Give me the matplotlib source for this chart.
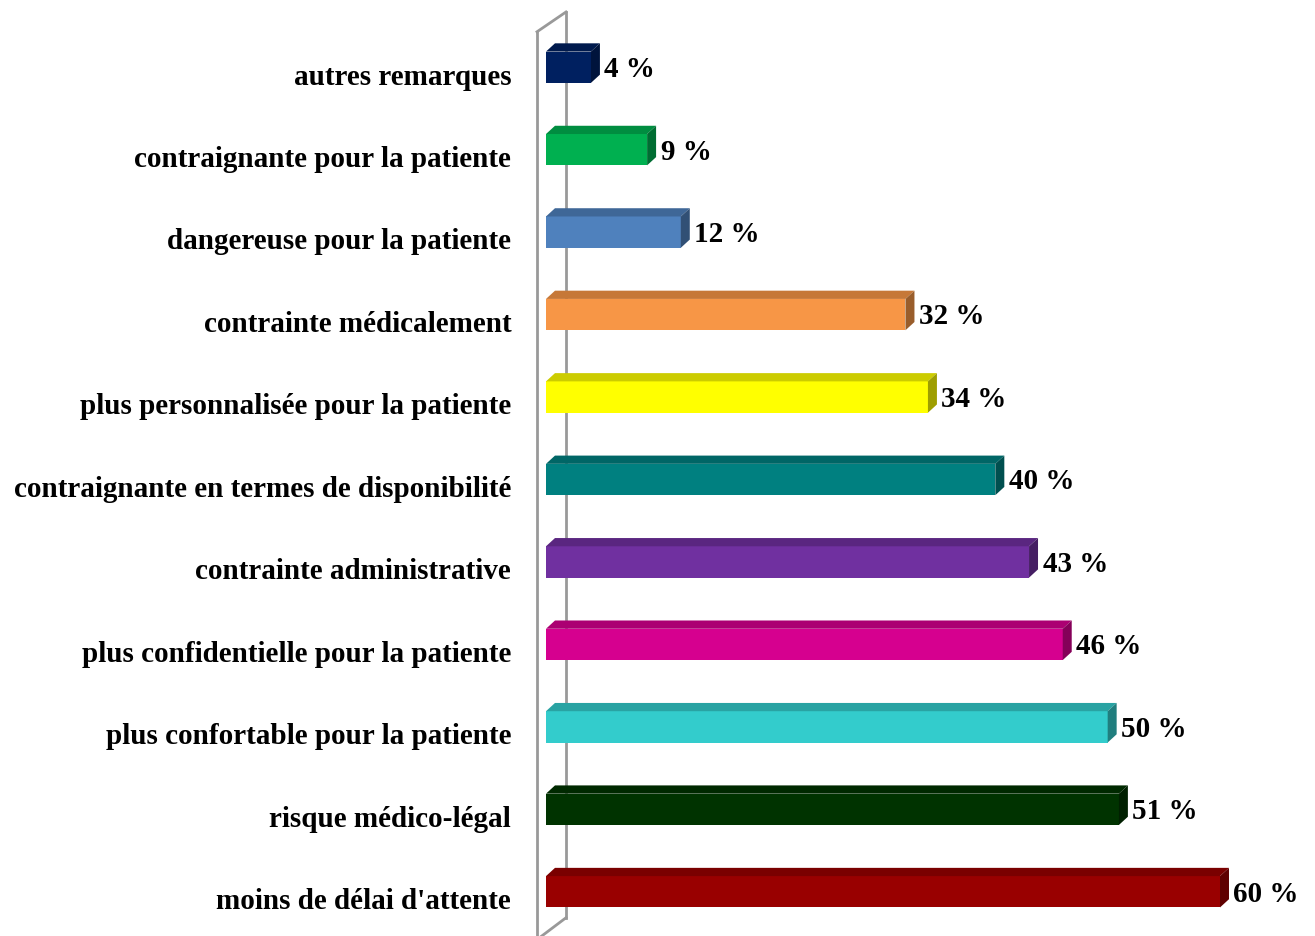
import matplotlib.pyplot as plt
from matplotlib.patches import Polygon
from matplotlib.colors import to_rgb

categories = [
    "moins de délai d'attente",
    "risque médico-légal",
    "plus confortable pour la patiente",
    "plus confidentielle pour la patiente",
    "contrainte administrative",
    "contraignante en termes de disponibilité",
    "plus personnalisée pour la patiente",
    "contrainte médicalement",
    "dangereuse pour la patiente",
    "contraignante pour la patiente",
    "autres remarques",
]
values = [60, 51, 50, 46, 43, 40, 34, 32, 12, 9, 4]
colors = ["#990000", "#003300", "#33CCCC", "#D6008F", "#7030A0", "#008080",
          "#FFFF00", "#F79646", "#4F81BD", "#00B050", "#002060"]

plt.rcParams['font.family'] = ['Liberation Serif', 'DejaVu Serif']

fig = plt.figure(figsize=(13.15, 9.36), dpi=100)
ax = fig.add_axes([546 / 1315, 3 / 936, 674 / 1315, 907 / 936])
ax.set_xlim(0, 60)
ax.set_ylim(-0.5, 10.5)
ax.axis('off')

# 3D depth of the bars in data units
dx, dy = 0.8, 0.1
h = 0.38


def shade(c, f):
    r, g, b = to_rgb(c)
    return (r * f, g * f, b * f)


# back wall on the left
wall_x = [-0.8, 1.78]
wall_kw = dict(color='#999999', lw=2, clip_on=False, zorder=1)
ax.plot([wall_x[0], wall_x[0]], [10.43, -0.58], **wall_kw)
ax.plot([wall_x[1], wall_x[1]], [10.67, -0.315], **wall_kw)
ax.plot([wall_x[0], wall_x[1]], [10.43, 10.67], **wall_kw)
ax.plot([wall_x[1], wall_x[0]], [-0.315, -0.58], **wall_kw)

y = list(range(len(categories)))
bars = ax.barh(y, values, height=h, color=colors, zorder=3, clip_on=False)

for rect, col in zip(bars, colors):
    x0, y0 = rect.get_x(), rect.get_y()
    w, hh = rect.get_width(), rect.get_height()
    top = Polygon([(x0, y0 + hh), (x0 + w, y0 + hh),
                   (x0 + w + dx, y0 + hh + dy), (x0 + dx, y0 + hh + dy)],
                  closed=True, facecolor=shade(col, 0.8), edgecolor='none',
                  zorder=3, clip_on=False)
    side = Polygon([(x0 + w, y0), (x0 + w + dx, y0 + dy),
                    (x0 + w + dx, y0 + hh + dy), (x0 + w, y0 + hh)],
                   closed=True, facecolor=shade(col, 0.62), edgecolor='none',
                   zorder=3, clip_on=False)
    ax.add_patch(top)
    ax.add_patch(side)

for yi, v, name in zip(y, values, categories):
    ax.text(-3.1, yi - 0.21, name, ha='right', va='baseline',
            fontsize=21, fontweight='bold', clip_on=False)
    ax.text(v + dx + 0.4, yi - 0.12, f"{v} %", ha='left', va='baseline',
            fontsize=21, fontweight='bold', clip_on=False)

fig.savefig('out.png', dpi=100, facecolor='white')
